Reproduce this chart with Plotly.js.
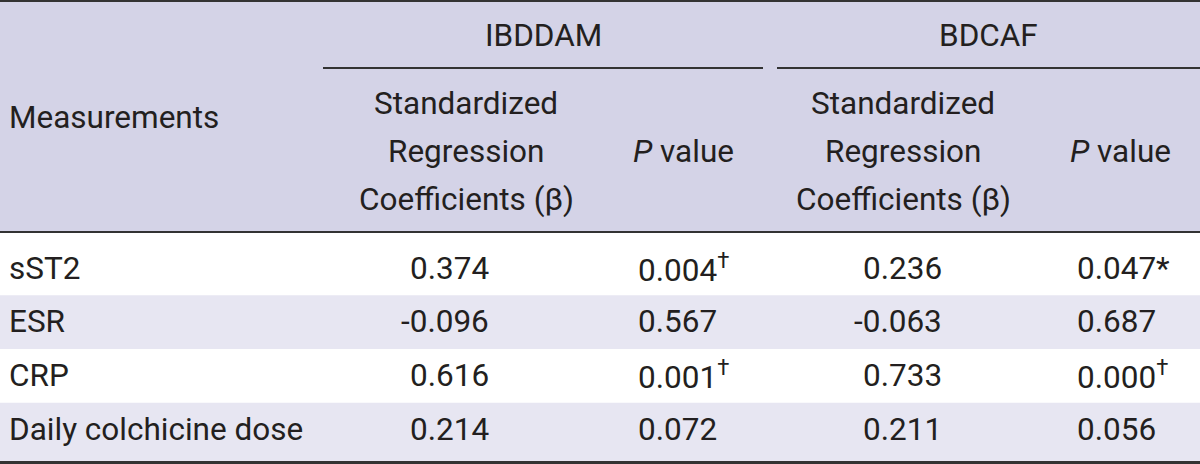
<!DOCTYPE html>
<html>
<head>
<meta charset="utf-8">
<script src="https://cdn.plot.ly/plotly-3.0.1.min.js"></script>
<style>
html,body{margin:0;padding:0;background:#fff;}
#chart{width:1200px;height:464px;}
</style>
</head>
<body>
<div id="chart"></div>
<script>
// ---- data ----
const groups = ['IBDDAM', 'BDCAF'];
const firstHeader = 'Measurements';
const betaHeader = ['Standardized', 'Regression', 'Coefficients (β)'];
const pHeader = '<i>P</i> value';
const measurements = ['sST2', 'ESR', 'CRP', 'Daily colchicine dose'];
const ibddamBeta = ['0.374', '-0.096', '0.616', '0.214'];
const ibddamP = ['0.004', '0.567', '0.001', '0.072'];
const ibddamMark = ['†', '', '†', ''];
const bdcafBeta = ['0.236', '-0.063', '0.733', '0.211'];
const bdcafP = ['0.047', '0.687', '0.000', '0.056'];
const bdcafMark = ['*', '', '†', ''];

// ---- layout constants ----
const W = 1200, H = 464;
const FONT = 'Roboto, "DejaVu Sans Condensed", sans-serif';
const FS = 31.5;
const TXT = '#231f20';
const HEAD_BG = '#d4d3e7';
const ALT_BG = '#e7e6f2';
const RULE = '#333333';
const headBottom = 233;
const rowCenters0 = 268, rowStep = 53.7;
const groupSpans = [[323, 763], [777, 1200]];
const betaRight = [491, 944];
const betaCenter = [466, 903];
const pLeft = [636, 1075];
const pCenter = [683, 1120];

const shapes = [];
const annotations = [];
function txt(x, y, text, xanchor) {
  annotations.push({
    x: x, y: y, xref: 'x', yref: 'y', text: text, showarrow: false,
    xanchor: xanchor || 'center', yanchor: 'middle',
    font: {family: FONT, size: FS, color: TXT}
  });
}
function rect(x0, y0, x1, y1, color) {
  shapes.push({type: 'rect', xref: 'x', yref: 'y', x0: x0, y0: y0, x1: x1, y1: y1,
    fillcolor: color, line: {width: 0}, layer: 'below'});
}
function hline(x0, x1, y, w) {
  shapes.push({type: 'line', xref: 'x', yref: 'y', x0: x0, x1: x1, y0: y, y1: y,
    line: {color: RULE, width: w}});
}

// header background
rect(0, 0, W, headBottom, HEAD_BG);
// alternate row backgrounds
measurements.forEach((m, i) => {
  const c = rowCenters0 + i * rowStep;
  const top = c - rowStep / 2 + 0.5;
  const bot = (i === measurements.length - 1) ? H : c + rowStep / 2 + 0.5;
  if (i % 2 === 1) rect(0, top, W, bot, ALT_BG);
});

// rules
hline(0, W, 1, 2);
hline(0, W, headBottom - 1, 2);
hline(0, W, H - 1.5, 3);
groupSpans.forEach(s => hline(s[0], s[1], 68, 2));

// header text
groups.forEach((g, k) => {
  txt((groupSpans[k][0] + groupSpans[k][1]) / 2, 35, g);
  betaHeader.forEach((line, j) => txt(betaCenter[k], 103 + j * 48, line));
  txt(pCenter[k], 151, pHeader);
});
txt(7, 117, firstHeader, 'left');

// body
const sup = (mk) => mk === '†' ? '<sup>†</sup>' : mk;
measurements.forEach((m, i) => {
  const y = rowCenters0 + i * rowStep;
  txt(7, y, m, 'left');
  txt(betaRight[0], y, ibddamBeta[i], 'right');
  txt(betaRight[1], y, bdcafBeta[i], 'right');
  txt(pLeft[0], y, ibddamP[i] + sup(ibddamMark[i]), 'left');
  txt(pLeft[1], y, bdcafP[i] + sup(bdcafMark[i]), 'left');
});

const layout = {
  width: W, height: H,
  margin: {l: 0, r: 0, t: 0, b: 0, pad: 0},
  paper_bgcolor: '#ffffff', plot_bgcolor: '#ffffff',
  xaxis: {range: [0, W], visible: false, fixedrange: true},
  yaxis: {range: [H, 0], visible: false, fixedrange: true},
  showlegend: false,
  shapes: shapes,
  annotations: annotations
};
Plotly.newPlot('chart', [{x: [], y: [], type: 'scatter', mode: 'markers', hoverinfo: 'skip'}], layout, {displayModeBar: false, staticPlot: true});
</script>
</body>
</html>
